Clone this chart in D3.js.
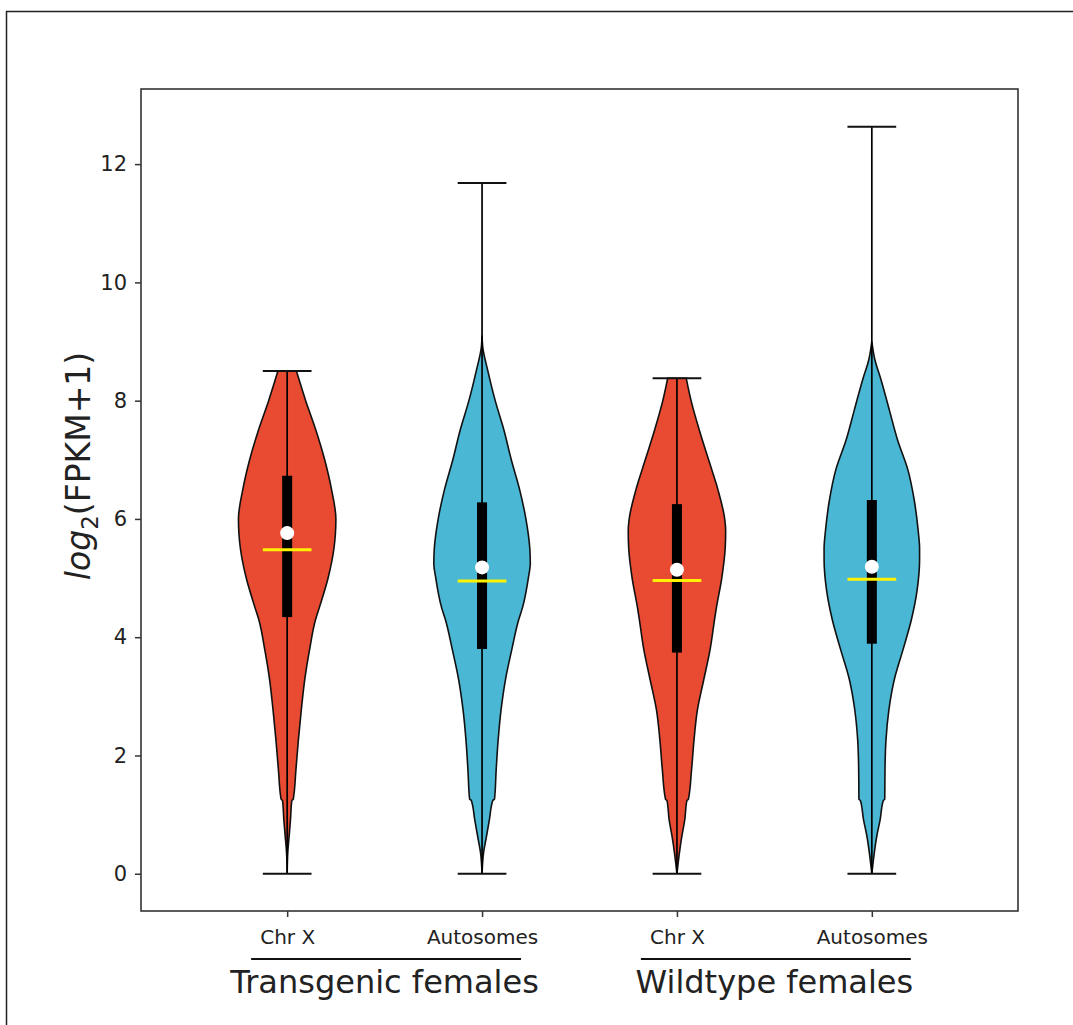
<!DOCTYPE html>
<html>
<head>
<meta charset="utf-8">
<script src="https://cdn.jsdelivr.net/npm/d3@7/dist/d3.min.js"></script>
<style>
  html, body { margin: 0; padding: 0; background: #fff; }
  svg { display: block; }
  text { font-family: "DejaVu Sans", sans-serif; fill: #222; }
</style>
</head>
<body>
<svg id="chart" width="1073" height="1025"></svg>
<script>
// ---------- data ----------
const categories = ["Chr X", "Autosomes", "Chr X", "Autosomes"];
const positions  = [1, 2, 3, 4];
const groups     = ["Transgenic females", "Wildtype females"];
const groupSpans = [[1, 2], [3, 4]];
const fills      = ["#E84B32", "#4AB7D5", "#E84B32", "#4AB7D5"];
const yTicks     = [0, 2, 4, 6, 8, 10, 12];

const mins    = [0, 0, 0, 0];
const maxs    = [8.50, 11.68, 8.38, 12.63];
const q1s     = [4.34, 3.80, 3.74, 3.89];
const q3s     = [6.73, 6.28, 6.25, 6.32];
const medians = [5.76, 5.18, 5.14, 5.19];
const means   = [5.48, 4.95, 4.96, 4.98];

// violin profiles: [value, relative half-width]
const densityTgChrX = [[0,0],[0.35,0.012],[0.63,0.04],[0.91,0.068],[1.24,0.096],[1.26,0.125],[1.76,0.18],[2.26,0.23],[2.77,0.29],[3.28,0.36],[3.79,0.46],[4.29,0.58],[4.5,0.66],[5.0,0.84],[5.5,0.96],[5.75,0.99],[6.0,1.0],[6.5,0.91],[7.0,0.77],[7.5,0.59],[8.0,0.38],[8.5,0.19]];
const densityTgAuto = [[0,0],[0.35,0.03],[0.63,0.09],[0.91,0.15],[1.24,0.22],[1.26,0.255],[1.76,0.29],[2.26,0.33],[2.77,0.39],[3.28,0.48],[3.79,0.61],[4.29,0.75],[4.5,0.83],[5.0,0.95],[5.25,0.99],[5.5,0.98],[6.0,0.9],[6.5,0.77],[7.0,0.6],[7.5,0.45],[8.0,0.27],[8.5,0.12],[8.9,0.015],[9.1,0]];
const densityWtChrX = [[0,0],[0.35,0.05],[0.63,0.1],[0.91,0.16],[1.24,0.205],[1.26,0.235],[1.76,0.3],[2.26,0.35],[2.77,0.42],[3.28,0.55],[3.79,0.68],[4.29,0.77],[4.5,0.81],[5.0,0.92],[5.5,0.99],[5.8,1.0],[6.0,0.98],[6.5,0.84],[7.0,0.65],[7.5,0.46],[8.0,0.29],[8.38,0.19]];
const densityWtAuto = [[0,0],[0.35,0.05],[0.63,0.1],[0.91,0.17],[1.24,0.235],[1.26,0.265],[1.76,0.27],[2.26,0.29],[2.77,0.35],[3.28,0.46],[3.79,0.64],[4.29,0.81],[4.8,0.93],[5.31,0.98],[5.5,0.98],[5.81,0.95],[6.32,0.87],[6.83,0.74],[7.33,0.53],[7.84,0.36],[8.35,0.19],[8.7,0.06],[9.0,0]];
const densities = [densityTgChrX, densityTgAuto, densityWtChrX, densityWtAuto];

// ---------- layout ----------
const svg = d3.select("#chart");
const plot = { left: 141, right: 1018, top: 89, bottom: 911 };

const x = d3.scaleLinear().domain([0.25, 4.75]).range([plot.left, plot.right]);
const y = d3.scaleLinear().domain([-0.63, 13.27]).range([plot.bottom, plot.top]);
const halfW = 0.25;   // violin half width in x units
const capW  = 0.125;  // cap half width in x units

// outer figure border
svg.append("line").attr("x1", 6).attr("x2", 1073).attr("y1", 11.5).attr("y2", 11.5)
  .attr("stroke", "#222").attr("stroke-width", 1.5);
svg.append("line").attr("x1", 6.5).attr("x2", 6.5).attr("y1", 11).attr("y2", 1025)
  .attr("stroke", "#222").attr("stroke-width", 1.5);

// violins
positions.forEach((p, i) => {
  const g = svg.append("g");
  const area = d3.area()
    .y(d => y(d[0]))
    .x0(d => x(p - d[1] * halfW))
    .x1(d => x(p + d[1] * halfW))
    .curve(d3.curveMonotoneY);
  g.append("path").datum(densities[i])
    .attr("d", area)
    .attr("fill", fills[i])
    .attr("stroke", "#111").attr("stroke-width", 1.6);

  // vertical range line
  g.append("line").attr("x1", x(p)).attr("x2", x(p))
    .attr("y1", y(mins[i])).attr("y2", y(maxs[i]))
    .attr("stroke", "#000").attr("stroke-width", 1.7);
  // caps
  [mins[i], maxs[i]].forEach(v => {
    g.append("line").attr("x1", x(p - capW)).attr("x2", x(p + capW))
      .attr("y1", y(v)).attr("y2", y(v))
      .attr("stroke", "#111").attr("stroke-width", 2);
  });
  // IQR box
  g.append("rect").attr("x", x(p) - 5).attr("width", 10)
    .attr("y", y(q3s[i])).attr("height", y(q1s[i]) - y(q3s[i]))
    .attr("fill", "#000");
  // mean line
  g.append("line").attr("x1", x(p - capW)).attr("x2", x(p + capW))
    .attr("y1", y(means[i])).attr("y2", y(means[i]))
    .attr("stroke", "#FFF200").attr("stroke-width", 3);
  // median dot
  g.append("circle").attr("cx", x(p)).attr("cy", y(medians[i])).attr("r", 7)
    .attr("fill", "#fff");
});

// plot frame
svg.append("rect").attr("x", plot.left).attr("y", plot.top)
  .attr("width", plot.right - plot.left).attr("height", plot.bottom - plot.top)
  .attr("fill", "none").attr("stroke", "#333").attr("stroke-width", 1.6);

// y axis
const yAxis = svg.append("g").attr("transform", `translate(${plot.left},0)`)
  .call(d3.axisLeft(y).tickValues(yTicks).tickSize(6).tickPadding(8));
yAxis.select(".domain").remove();
yAxis.selectAll(".tick line").attr("stroke", "#333").attr("stroke-width", 1.5);
yAxis.selectAll(".tick text").style("font-size", "21px").style("font-family", "DejaVu Sans").attr("fill", "#222");

// x axis
const xAxis = svg.append("g").attr("transform", `translate(0,${plot.bottom})`)
  .call(d3.axisBottom(x).tickValues(positions).tickFormat((d, i) => categories[i]).tickSize(6).tickPadding(13));
xAxis.select(".domain").remove();
xAxis.selectAll(".tick line").attr("stroke", "#333").attr("stroke-width", 1.5);
xAxis.selectAll(".tick text").style("font-size", "20px").style("font-family", "DejaVu Sans").attr("fill", "#222");

// group underlines and labels
groupSpans.forEach((s, i) => {
  svg.append("line").attr("x1", x(s[0] - 0.185)).attr("x2", x(s[1] + 0.2))
    .attr("y1", 959).attr("y2", 959).attr("stroke", "#111").attr("stroke-width", 2);
  svg.append("text").attr("x", x((s[0] + s[1]) / 2)).attr("y", 993)
    .attr("text-anchor", "middle").style("font-size", "32px").text(groups[i]);
});

// y label
const yl = svg.append("text")
  .attr("transform", `translate(90,${466}) rotate(-90)`)
  .attr("text-anchor", "middle").style("font-size", "33px");
yl.append("tspan").style("font-style", "italic").text("log");
yl.append("tspan").attr("dy", 8).style("font-size", "23px").text("2");
yl.append("tspan").attr("dy", -8).text("(FPKM+1)");
</script>
</body>
</html>
